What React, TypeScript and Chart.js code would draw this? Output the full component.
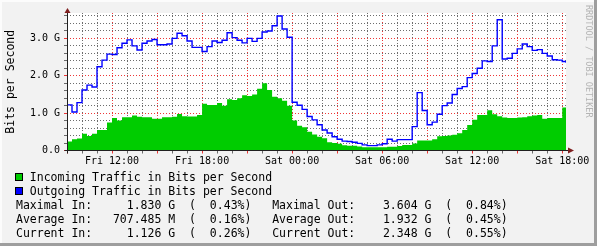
import { useEffect, useRef } from 'react';
import { Chart, registerables } from 'chart.js';

Chart.register(...registerables);

// Time axis in hours counted from Fri 00:00
const startHour = 9;
const stepHours = 1 / 3;
const endHour = 42.25;
const dayNames = ['Fri', 'Sat'];

// Values in G bits per second
const outgoingG = [
  1.22, 1.03, 1.28, 1.62, 1.75, 1.70, 2.24, 2.42, 2.58, 2.57,
  2.75, 2.87, 2.96, 2.80, 2.69, 2.87, 2.93, 2.97, 2.83, 2.83,
  2.85, 3.00, 3.14, 3.07, 2.93, 2.76, 2.76, 2.65, 2.78, 2.93,
  2.89, 2.95, 3.15, 3.02, 2.95, 2.88, 3.00, 2.92, 3.00, 3.17,
  3.20, 3.34, 3.60, 3.25, 3.03, 1.29, 1.21, 1.10, 0.91, 0.82,
  0.69, 0.55, 0.47, 0.37, 0.30, 0.25, 0.24, 0.22, 0.19, 0.15,
  0.13, 0.13, 0.15, 0.18, 0.30, 0.25, 0.29, 0.29, 0.29, 0.64,
  1.55, 1.07, 0.69, 0.76, 0.97, 1.20, 1.27, 1.50, 1.66, 1.71,
  1.95, 2.06, 2.20, 2.40, 2.38, 2.80, 3.50, 2.45, 2.47, 2.60,
  2.72, 2.85, 2.78, 2.68, 2.70, 2.60, 2.53, 2.43, 2.42, 2.38,
  2.35,
];

const incomingG = [
  0.24, 0.30, 0.32, 0.45, 0.39, 0.45, 0.55, 0.55, 0.75, 0.87,
  0.80, 0.89, 0.89, 0.94, 0.90, 0.89, 0.89, 0.85, 0.85, 0.89,
  0.89, 0.90, 0.98, 0.92, 0.91, 0.91, 0.95, 1.25, 1.22, 1.22,
  1.27, 1.20, 1.37, 1.35, 1.40, 1.48, 1.46, 1.50, 1.65, 1.80,
  1.62, 1.44, 1.40, 1.33, 1.20, 0.80, 0.66, 0.62, 0.50, 0.43,
  0.37, 0.33, 0.22, 0.20, 0.18, 0.14, 0.13, 0.13, 0.11, 0.09,
  0.09, 0.09, 0.09, 0.09, 0.10, 0.10, 0.12, 0.15, 0.15, 0.19,
  0.27, 0.27, 0.27, 0.30, 0.38, 0.39, 0.40, 0.42, 0.46, 0.55,
  0.68, 0.82, 0.95, 0.95, 1.08, 0.97, 0.92, 0.88, 0.87, 0.87,
  0.88, 0.89, 0.92, 0.94, 0.95, 0.85, 0.87, 0.87, 0.87, 1.15,
  1.13,
];

const yTickLabels: Record<number, string> = { 0: '0.0', 1: '1.0 G', 2: '2.0 G', 3: '3.0 G' };
const yTitle = 'Bits per Second';
const watermark = 'RRDTOOL / TOBI OETIKER';

const legendLabels = ['Incoming Traffic in Bits per Second', 'Outgoing Traffic in Bits per Second'];
const legendColors = ['#00cc00', '#0000ff'];

const statNames = ['Maximal', 'Average', 'Current'];
const inNumbers = ['1.830', '707.485', '1.126'];
const inUnits = ['G', 'M', 'G'];
const inPercents = ['0.43', '0.16', '0.26'];
const outNumbers = ['3.604', '1.932', '2.348'];
const outUnits = ['G', 'G', 'G'];
const outPercents = ['0.84', '0.45', '0.55'];

const MONO = "'DejaVu Sans Mono', monospace";

const sampleHours = outgoingG.map((_, i) =>
  i < outgoingG.length - 1 ? startHour + i * stepHours : endHour
);

function statLine(i: number): string {
  return (
    `${statNames[i]} In:` +
    inNumbers[i].padStart(10) + ' ' + inUnits[i] +
    '  (' + inPercents[i].padStart(6) + '%)' +
    '   ' +
    `${statNames[i]} Out:` +
    outNumbers[i].padStart(9) + ' ' + outUnits[i] +
    '  (' + outPercents[i].padStart(6) + '%)'
  );
}

const decorPlugin = {
  id: 'rrdDecor',
  beforeDraw(chart: any) {
    const { ctx, chartArea: a, width, height } = chart;
    ctx.save();
    ctx.fillStyle = '#f2f2f2';
    ctx.fillRect(0, 0, width, height);
    // frame shading
    ctx.fillStyle = '#fcfcfc';
    ctx.fillRect(0, 0, width, 2);
    ctx.fillRect(0, 0, 2, height);
    ctx.fillStyle = '#9e9e9e';
    ctx.fillRect(0, height - 3, width, 3);
    ctx.fillRect(width - 3, 0, 3, height);
    // canvas
    ctx.fillStyle = '#ffffff';
    ctx.fillRect(a.left, a.top, a.right - a.left, a.bottom - a.top);
    ctx.restore();
  },
  afterDraw(chart: any) {
    const { ctx, chartArea: a } = chart;
    ctx.save();
    const ax = Math.round(a.left) + 0.5;
    const ay = Math.round(a.bottom - 0.5) + 0.5;
    // axes
    ctx.strokeStyle = '#202020';
    ctx.lineWidth = 1;
    ctx.setLineDash([]);
    ctx.beginPath();
    ctx.moveTo(ax, ay + 3);
    ctx.lineTo(ax, a.top - 2);
    ctx.moveTo(ax - 3, ay);
    ctx.lineTo(a.right + 2, ay);
    ctx.stroke();
    // arrows
    ctx.fillStyle = '#7f1f1f';
    ctx.beginPath();
    ctx.moveTo(ax - 3, a.top);
    ctx.lineTo(ax + 3, a.top);
    ctx.lineTo(ax, a.top - 5);
    ctx.closePath();
    ctx.fill();
    ctx.beginPath();
    ctx.moveTo(a.right + 2, ay - 3);
    ctx.lineTo(a.right + 2, ay + 3);
    ctx.lineTo(a.right + 8, ay);
    ctx.closePath();
    ctx.fill();

    // y title
    ctx.fillStyle = '#000';
    ctx.font = `11.5px ${MONO}`;
    ctx.textAlign = 'center';
    ctx.textBaseline = 'middle';
    ctx.save();
    ctx.translate(11.5, (a.top + a.bottom) / 2);
    ctx.rotate(-Math.PI / 2);
    ctx.fillText(yTitle, 0, 0);
    ctx.restore();

    // watermark
    ctx.save();
    ctx.fillStyle = '#b4b4b4';
    ctx.font = `8.5px ${MONO}`;
    ctx.textAlign = 'left';
    ctx.textBaseline = 'middle';
    ctx.translate(588, 5);
    ctx.rotate(Math.PI / 2);
    ctx.fillText(watermark, 0, 0);
    ctx.restore();

    // legend
    ctx.font = `11.5px ${MONO}`;
    ctx.textAlign = 'left';
    ctx.textBaseline = 'middle';
    legendLabels.forEach((lab, i) => {
      const cy = 177 + i * 14;
      ctx.fillStyle = legendColors[i];
      ctx.fillRect(15, cy - 4, 8, 8);
      ctx.strokeStyle = '#000';
      ctx.strokeRect(15.5, cy - 3.5, 7, 7);
      ctx.fillStyle = '#000';
      ctx.fillText(lab, 29.8, cy + 1);
    });
    statNames.forEach((_, i) => {
      ctx.fillText(statLine(i), 16, 206.5 + i * 14);
    });
    ctx.restore();
  },
};

export default function App() {
  const ref = useRef<HTMLCanvasElement>(null);
  useEffect(() => {
    if (!ref.current) return;
    const points = (vals: number[]) => vals.map((v, i) => ({ x: sampleHours[i], y: v }));
    const gridGray = 'rgba(60,60,60,0.75)';
    const gridRed = 'rgba(235,20,20,0.85)';
    const isMajorY = (v: number) => Math.abs(v - Math.round(v)) < 1e-6;
    const chart = new Chart(ref.current, {
      type: 'line',
      data: {
        datasets: [
          {
            label: legendLabels[1],
            data: points(outgoingG),
            borderColor: '#0000ff',
            borderWidth: 1.4,
            stepped: true,
            fill: false,
            pointRadius: 0,
          },
          {
            label: legendLabels[0],
            data: points(incomingG),
            borderColor: '#00cc00',
            backgroundColor: '#00cc00',
            borderWidth: 0,
            stepped: true,
            fill: 'origin',
            pointRadius: 0,
          },
        ],
      },
      options: {
        animation: false,
        responsive: false,
        devicePixelRatio: 1,
        layout: { padding: { left: 0, top: 13, right: 31, bottom: 0 } },
        plugins: { legend: { display: false }, tooltip: { enabled: false } },
        scales: {
          x: {
            type: 'linear',
            min: startHour,
            max: endHour,
            z: 1,
            afterFit: (s: any) => { s.height = 246 - 150.5; },
            border: { display: false, dash: [1, 2] },
            grid: {
              color: (c: any) => (Math.round(c.tick.value) % 3 === 0 ? gridRed : gridGray),
              tickColor: (c: any) => (Math.round(c.tick.value) % 3 === 0 ? gridRed : gridGray),
              borderDash: [1, 2],
              lineWidth: 1,
              tickLength: 3,
            },
            ticks: {
              stepSize: 1,
              includeBounds: false,
              autoSkip: false,
              maxRotation: 0,
              padding: 2,
              color: '#000',
              font: { family: MONO, size: 10 },
              callback: (v: any) => {
                const h = Math.round(Number(v));
                if (h % 6 !== 0) return '';
                const d = dayNames[Math.floor(h / 24)];
                const hh = String(h % 24).padStart(2, '0');
                return `${d} ${hh}:00`;
              },
            },
          },
          y: {
            type: 'linear',
            min: 0,
            max: 3.68,
            z: 1,
            afterFit: (s: any) => { s.width = 67; },
            border: { display: false, dash: [1, 2] },
            grid: {
              color: (c: any) => (isMajorY(c.tick.value) ? gridRed : gridGray),
              tickColor: (c: any) => (isMajorY(c.tick.value) ? gridRed : gridGray),
              borderDash: [1, 2],
              lineWidth: 1,
              tickLength: 3,
            },
            ticks: {
              stepSize: 0.2,
              includeBounds: false,
              autoSkip: false,
              padding: 4,
              color: '#000',
              font: { family: MONO, size: 10 },
              callback: (v: any) => {
                const n = Number(v);
                if (!isMajorY(n)) return '';
                return yTickLabels[Math.round(n)] ?? '';
              },
            },
          },
        },
      },
      plugins: [decorPlugin],
    } as any);
    return () => chart.destroy();
  }, []);
  return (
    <div style={{ position: 'absolute', left: 0, top: 0, width: 597, height: 246 }}>
      <canvas ref={ref} width={597} height={246} style={{ display: 'block' }} />
    </div>
  );
}
